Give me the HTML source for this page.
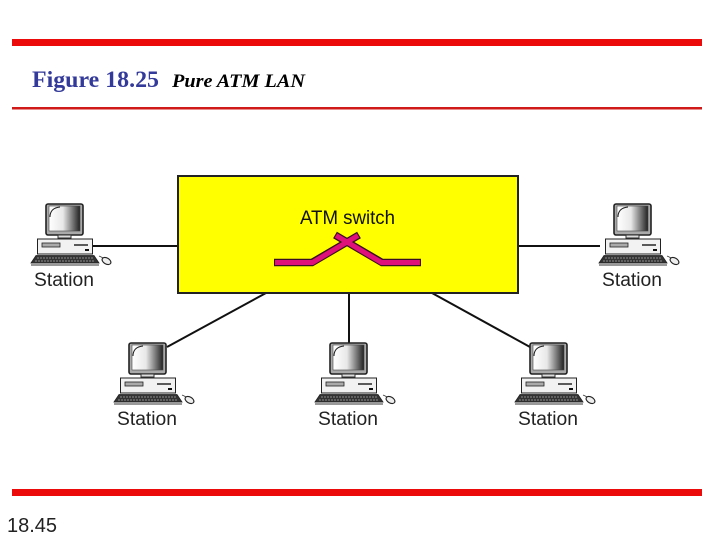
<!DOCTYPE html>
<html>
<head>
<meta charset="utf-8">
<style>
html,body{margin:0;padding:0;background:#fff}
svg{display:block}
</style>
</head>
<body>
<svg width="720" height="540" viewBox="0 0 720 540" xmlns="http://www.w3.org/2000/svg">
<defs>
<linearGradient id="scr" x1="0" x2="1" y1="0" y2="0">
<stop offset="0" stop-color="#fff"/>
<stop offset="0.45" stop-color="#e8e8e8"/>
<stop offset="1" stop-color="#222"/>
</linearGradient>
<g id="pc">
<rect x="46" y="204" width="37" height="31" rx="2" fill="#aaa" stroke="#222" stroke-width="1.600"/>
<rect x="49" y="206" width="31" height="25" fill="url(#scr)" stroke="#444" stroke-width="0.6"/>
<path d="M50 217 Q50 208 60 207" fill="none" stroke="#222" stroke-width="1"/>
<rect x="58" y="235" width="13" height="3" fill="#ddd" stroke="#333" stroke-width="1"/>
<rect x="37.500" y="239" width="55" height="15" fill="#f2f2f2" stroke="#222" stroke-width="1"/>
<rect x="42" y="243" width="18" height="4" fill="#aaa" stroke="#222" stroke-width="0.8"/>
<path d="M74 245 H88" stroke="#333" stroke-width="1.6"/>
<rect x="85" y="249" width="4" height="2" fill="#111"/>
<path d="M36 255.500 H94 L99 263 H31 Z" fill="#333" stroke="#222" stroke-width="0.8"/>
<path d="M37 258 H93 M35 261 H95" stroke="#aaa" stroke-width="0.7" stroke-dasharray="2 1"/>
<rect x="31" y="263" width="68" height="3" fill="#999"/>
<path d="M99 256 Q102 257 104 259" fill="none" stroke="#333" stroke-width="0.8"/>
<ellipse cx="106.500" cy="261" rx="4.800" ry="3" transform="rotate(30 106.500 261)" fill="#eee" stroke="#222" stroke-width="1.100"/>
</g>
</defs>

<rect x="12" y="39" width="690" height="7" fill="#ec0b0b"/>
<rect x="12" y="107" width="690" height="2.500" fill="#d01a1a"/>
<rect x="12" y="489" width="690" height="7" fill="#ec0b0b"/>

<text x="32" y="87" font-family="'Liberation Serif',serif" font-size="23" font-weight="bold" fill="#333a99" textLength="127" lengthAdjust="spacingAndGlyphs">Figure 18.25</text>
<text x="172" y="87" font-family="'Liberation Serif',serif" font-size="18.500" font-weight="bold" font-style="italic" fill="#000" textLength="133" lengthAdjust="spacingAndGlyphs">Pure ATM LAN</text>
<text x="7" y="532" font-family="'Liberation Sans',sans-serif" font-size="20" fill="#222" textLength="50" lengthAdjust="spacingAndGlyphs">18.45</text>

<g stroke="#111" stroke-width="2" fill="none">
<path d="M92 246 H178"/>
<path d="M518 246 H600"/>
<path d="M266 293 L167 347"/>
<path d="M349 293 V343"/>
<path d="M432 293 L530 347"/>
</g>

<rect x="178" y="176" width="340" height="117" fill="#ffff00" stroke="#222" stroke-width="2"/>

<text x="300" y="224" font-family="'Liberation Sans',sans-serif" font-size="19" fill="#111" textLength="95" lengthAdjust="spacingAndGlyphs">ATM switch</text>

<g fill="none" stroke-linejoin="miter">
<path d="M274 262.500 H312 L359 235 M421 262.500 H382 L335 235" stroke="#3a1020" stroke-width="7.500"/>
<path d="M275 262.500 H312.500 L358 235.500 M420 262.500 H381.500 L336 235.500" stroke="#e0107a" stroke-width="5"/>
</g>

<use href="#pc"/>
<use href="#pc" transform="translate(568 0)"/>
<use href="#pc" transform="translate(83 139)"/>
<use href="#pc" transform="translate(284 139)"/>
<use href="#pc" transform="translate(484 139)"/>

<g font-family="'Liberation Sans',sans-serif" font-size="19" fill="#222">
<text x="34" y="286" textLength="60" lengthAdjust="spacingAndGlyphs">Station</text>
<text x="602" y="286" textLength="60" lengthAdjust="spacingAndGlyphs">Station</text>
<text x="117" y="425" textLength="60" lengthAdjust="spacingAndGlyphs">Station</text>
<text x="318" y="425" textLength="60" lengthAdjust="spacingAndGlyphs">Station</text>
<text x="518" y="425" textLength="60" lengthAdjust="spacingAndGlyphs">Station</text>
</g>
</svg>
</body>
</html>
